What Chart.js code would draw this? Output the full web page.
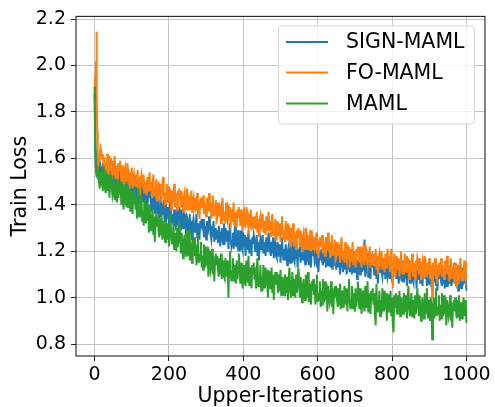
<!DOCTYPE html>
<html><head><meta charset="utf-8">
<script src="https://cdn.jsdelivr.net/npm/chart.js@4"></script>
<style>html,body{margin:0;padding:0;background:#fff;}canvas{display:block}</style>
</head><body>
<canvas id="c" width="495" height="407"></canvas>
<script>
const iterations = [
0,1,2,3,4,5,6,7,8,9,
10,12,14,16,18,20,22,24,26,28,
30,32,34,36,38,40,42,44,46,48,
50,52,54,56,58,60,62,64,66,68,
70,72,74,76,78,80,82,84,86,88,
90,92,94,96,98,100,102,104,106,108,
110,112,114,116,118,120,122,124,126,128,
130,132,134,136,138,140,142,144,146,148,
150,152,154,156,158,160,162,164,166,168,
170,172,174,176,178,180,182,184,186,188,
190,192,194,196,198,200,202,204,206,208,
210,212,214,216,218,220,222,224,226,228,
230,232,234,236,238,240,242,244,246,248,
250,252,254,256,258,260,262,264,266,268,
270,272,274,276,278,280,282,284,286,288,
290,292,294,296,298,300,302,304,306,308,
310,312,314,316,318,320,322,324,326,328,
330,332,334,336,338,340,342,344,346,348,
350,352,354,356,358,360,362,364,366,368,
370,372,374,376,378,380,382,384,386,388,
390,392,394,396,398,400,402,404,406,408,
410,412,414,416,418,420,422,424,426,428,
430,432,434,436,438,440,442,444,446,448,
450,452,454,456,458,460,462,464,466,468,
470,472,474,476,478,480,482,484,486,488,
490,492,494,496,498,500,502,504,506,508,
510,512,514,516,518,520,522,524,526,528,
530,532,534,536,538,540,542,544,546,548,
550,552,554,556,558,560,562,564,566,568,
570,572,574,576,578,580,582,584,586,588,
590,592,594,596,598,600,602,604,606,608,
610,612,614,616,618,620,622,624,626,628,
630,632,634,636,638,640,642,644,646,648,
650,652,654,656,658,660,662,664,666,668,
670,672,674,676,678,680,682,684,686,688,
690,692,694,696,698,700,702,704,706,708,
710,712,714,716,718,720,722,724,726,728,
730,732,734,736,738,740,742,744,746,748,
750,752,754,756,758,760,762,764,766,768,
770,772,774,776,778,780,782,784,786,788,
790,792,794,796,798,800,802,804,806,808,
810,812,814,816,818,820,822,824,826,828,
830,832,834,836,838,840,842,844,846,848,
850,852,854,856,858,860,862,864,866,868,
870,872,874,876,878,880,882,884,886,888,
890,892,894,896,898,900,902,904,906,908,
910,912,914,916,918,920,922,924,926,928,
930,932,934,936,938,940,942,944,946,948,
950,952,954,956,958,960,962,964,966,968,
970,972,974,976,978,980,982,984,986,988,
990,992,994,996,998,1000];

const signMaml = [
1.88,1.75,1.63,1.60,1.55,1.62,1.58,1.55,1.57,1.54,
1.57,1.52,1.59,1.55,1.50,1.56,1.58,1.53,1.51,1.56,
1.51,1.55,1.48,1.54,1.58,1.49,1.52,1.50,1.56,1.47,
1.53,1.48,1.49,1.55,1.46,1.52,1.44,1.51,1.53,1.49,
1.46,1.53,1.50,1.47,1.52,1.44,1.51,1.55,1.48,1.45,
1.48,1.43,1.52,1.46,1.44,1.51,1.45,1.50,1.41,1.49,
1.45,1.50,1.42,1.47,1.44,1.41,1.49,1.43,1.46,1.51,
1.41,1.44,1.49,1.39,1.45,1.42,1.38,1.46,1.43,1.47,
1.44,1.39,1.37,1.43,1.38,1.45,1.36,1.40,1.42,1.37,
1.37,1.41,1.34,1.40,1.44,1.35,1.38,1.36,1.42,1.33,
1.33,1.40,1.37,1.34,1.39,1.31,1.38,1.42,1.35,1.32,
1.36,1.31,1.38,1.34,1.29,1.35,1.37,1.32,1.30,1.39,
1.34,1.29,1.38,1.32,1.30,1.37,1.31,1.36,1.27,1.35,
1.34,1.29,1.30,1.36,1.27,1.33,1.25,1.32,1.34,1.30,
1.28,1.31,1.36,1.26,1.32,1.29,1.25,1.33,1.30,1.34,
1.29,1.34,1.26,1.31,1.28,1.25,1.33,1.27,1.30,1.35,
1.32,1.27,1.25,1.31,1.26,1.33,1.24,1.28,1.30,1.25,
1.29,1.24,1.31,1.27,1.22,1.28,1.30,1.25,1.23,1.32,
1.23,1.30,1.27,1.24,1.29,1.21,1.28,1.32,1.25,1.22,
1.24,1.28,1.21,1.27,1.31,1.22,1.25,1.23,1.29,1.20,
1.25,1.20,1.29,1.23,1.21,1.28,1.22,1.27,1.18,1.26,
1.21,1.24,1.29,1.19,1.25,1.22,1.18,1.26,1.23,1.27,
1.25,1.20,1.21,1.27,1.18,1.24,1.16,1.23,1.25,1.21,
1.22,1.27,1.19,1.24,1.21,1.18,1.26,1.20,1.23,1.28,
1.25,1.20,1.18,1.24,1.19,1.26,1.17,1.21,1.23,1.18,
1.17,1.24,1.21,1.18,1.23,1.15,1.22,1.26,1.19,1.16,
1.21,1.16,1.23,1.19,1.14,1.20,1.22,1.17,1.15,1.24,
1.20,1.15,1.24,1.18,1.16,1.23,1.17,1.22,1.13,1.21,
1.18,1.22,1.15,1.21,1.25,1.16,1.19,1.17,1.23,1.14,
1.16,1.19,1.24,1.14,1.20,1.17,1.13,1.21,1.18,1.22,
1.20,1.15,1.16,1.22,1.13,1.19,1.11,1.18,1.20,1.16,
1.21,1.16,1.14,1.20,1.15,1.22,1.13,1.17,1.19,1.14,
1.16,1.21,1.13,1.18,1.15,1.12,1.20,1.14,1.17,1.22,
1.12,1.19,1.16,1.13,1.18,1.10,1.17,1.21,1.14,1.11,
1.17,1.12,1.19,1.15,1.10,1.16,1.18,1.13,1.11,1.20,
1.15,1.10,1.19,1.13,1.11,1.18,1.12,1.17,1.08,1.16,
1.13,1.17,1.10,1.16,1.20,1.11,1.14,1.12,1.25,1.09,
1.11,1.14,1.19,1.09,1.15,1.12,1.08,1.16,1.13,1.17,
1.15,1.10,1.11,1.17,1.08,1.14,1.06,1.13,1.15,1.11,
1.16,1.11,1.09,1.15,1.10,1.17,1.08,1.12,1.14,1.09,
1.11,1.16,1.08,1.13,1.10,1.07,1.15,1.09,1.12,1.17,
1.13,1.08,1.15,1.11,1.06,1.12,1.14,1.09,1.07,1.16,
1.07,1.14,1.11,1.08,1.13,1.05,1.12,1.16,1.09,1.06,
1.11,1.06,1.15,1.09,1.07,1.14,1.08,1.13,1.04,1.12,
1.08,1.11,1.16,1.06,1.12,1.09,1.05,1.13,1.10,1.14,
1.08,1.12,1.05,1.11,1.15,1.06,1.09,1.07,1.13,1.04,
1.12,1.07,1.08,1.14,1.05,1.11,1.03,1.10,1.12,1.08,
1.12,1.07,1.05,1.11,1.06,1.13,1.04,1.08,1.10,1.05,
1.09,1.14,1.06,1.11,1.08,1.05,1.13,1.07,1.10,1.15,
1.10,1.05,1.12,1.08,1.03,1.09,1.11,1.06,1.04,1.13,
1.05,1.12,1.09,1.06,1.11,1.03];

const foMaml = [
1.90,1.95,1.93,1.97,2.02,2.145,1.88,1.72,1.63,1.58,
1.57,1.59,1.62,1.645,1.63,1.60,1.62,1.58,1.59,1.56,
1.58,1.53,1.62,1.56,1.54,1.61,1.55,1.60,1.51,1.59,
1.53,1.56,1.61,1.51,1.57,1.54,1.50,1.58,1.55,1.59,
1.55,1.50,1.57,1.53,1.48,1.54,1.56,1.51,1.49,1.58,
1.55,1.50,1.48,1.54,1.49,1.56,1.47,1.51,1.53,1.48,
1.53,1.48,1.49,1.55,1.46,1.52,1.44,1.51,1.53,1.49,
1.48,1.53,1.45,1.50,1.47,1.44,1.52,1.46,1.49,1.54,
1.46,1.50,1.43,1.49,1.53,1.44,1.47,1.45,1.51,1.42,
1.43,1.50,1.47,1.44,1.49,1.41,1.48,1.52,1.45,1.42,
1.45,1.40,1.49,1.43,1.41,1.48,1.42,1.47,1.38,1.46,
1.41,1.44,1.49,1.39,1.45,1.42,1.38,1.46,1.43,1.47,
1.44,1.39,1.46,1.42,1.37,1.43,1.45,1.40,1.38,1.47,
1.45,1.40,1.38,1.44,1.39,1.46,1.37,1.41,1.43,1.38,
1.43,1.38,1.39,1.45,1.36,1.42,1.34,1.41,1.43,1.39,
1.39,1.44,1.36,1.41,1.38,1.35,1.43,1.37,1.40,1.45,
1.37,1.41,1.34,1.40,1.44,1.35,1.38,1.36,1.42,1.33,
1.34,1.41,1.38,1.35,1.40,1.32,1.39,1.43,1.36,1.33,
1.37,1.32,1.41,1.35,1.33,1.40,1.34,1.39,1.30,1.38,
1.33,1.36,1.41,1.31,1.37,1.34,1.30,1.38,1.35,1.39,
1.36,1.31,1.38,1.34,1.29,1.35,1.37,1.32,1.30,1.39,
1.37,1.32,1.30,1.36,1.31,1.38,1.29,1.33,1.35,1.30,
1.35,1.30,1.31,1.37,1.28,1.34,1.26,1.33,1.35,1.31,
1.31,1.36,1.28,1.33,1.30,1.27,1.35,1.29,1.32,1.37,
1.29,1.33,1.26,1.32,1.36,1.27,1.30,1.28,1.34,1.25,
1.26,1.33,1.30,1.27,1.32,1.24,1.31,1.35,1.28,1.25,
1.29,1.24,1.33,1.27,1.25,1.32,1.26,1.31,1.22,1.30,
1.24,1.27,1.32,1.22,1.28,1.25,1.21,1.29,1.26,1.30,
1.27,1.22,1.29,1.25,1.20,1.26,1.28,1.23,1.21,1.30,
1.28,1.23,1.21,1.27,1.22,1.29,1.20,1.24,1.26,1.21,
1.26,1.21,1.22,1.28,1.19,1.25,1.17,1.24,1.26,1.22,
1.22,1.27,1.19,1.24,1.21,1.18,1.26,1.20,1.23,1.28,
1.20,1.24,1.17,1.23,1.27,1.18,1.21,1.19,1.25,1.16,
1.17,1.24,1.21,1.18,1.23,1.15,1.22,1.26,1.19,1.16,
1.20,1.15,1.24,1.18,1.16,1.23,1.17,1.22,1.13,1.21,
1.16,1.19,1.24,1.14,1.20,1.17,1.13,1.21,1.18,1.22,
1.20,1.15,1.22,1.18,1.13,1.19,1.21,1.16,1.14,1.23,
1.21,1.16,1.14,1.20,1.15,1.22,1.13,1.17,1.19,1.14,
1.19,1.14,1.15,1.21,1.12,1.18,1.10,1.17,1.19,1.15,
1.15,1.20,1.12,1.17,1.14,1.11,1.19,1.13,1.16,1.21,
1.14,1.18,1.11,1.17,1.21,1.12,1.04,1.13,1.19,1.10,
1.11,1.18,1.15,1.12,1.17,1.09,1.16,1.20,1.13,1.10,
1.15,1.10,1.19,1.13,1.11,1.18,1.12,1.17,1.08,1.16,
1.11,1.14,1.19,1.09,1.15,1.12,1.08,1.16,1.13,1.17,
1.15,1.10,1.17,1.13,1.08,1.14,1.16,1.11,1.09,1.18,
1.16,1.11,1.09,1.15,1.10,1.17,1.08,1.12,1.14,1.00,
1.15,1.10,1.11,1.17,1.08,1.14,1.06,1.13,1.15,1.11,
1.12,1.17,1.09,1.14,1.11,1.08,1.16,1.10,1.13,1.18,
1.10,1.14,1.07,1.13,1.17,1.08,1.11,1.09,1.15,1.06,
1.08,1.15,1.04,1.09,1.14,1.06,1.13,1.17,1.10,1.07,
1.12,1.07,1.16,1.10,1.08,1.15];

const maml = [
1.91,1.78,1.64,1.57,1.54,1.56,1.52,1.54,1.51,1.53,
1.55,1.50,1.47,1.54,1.48,1.56,1.46,1.51,1.53,1.47,
1.45,1.52,1.50,1.46,1.53,1.43,1.51,1.53,1.48,1.44,
1.46,1.52,1.42,1.49,1.45,1.41,1.51,1.43,1.47,1.50,
1.47,1.40,1.49,1.44,1.38,1.45,1.48,1.41,1.39,1.50,
1.39,1.43,1.47,1.37,1.45,1.41,1.36,1.46,1.42,1.47,
1.38,1.43,1.34,1.42,1.47,1.35,1.39,1.36,1.44,1.33,
1.37,1.31,1.42,1.35,1.32,1.41,1.33,1.40,1.28,1.39,
1.36,1.29,1.31,1.38,1.27,1.35,1.24,1.33,1.36,1.31,
1.35,1.29,1.26,1.34,1.27,1.36,1.25,1.30,1.33,1.26,
1.24,1.33,1.29,1.25,1.32,1.22,1.31,1.36,1.27,1.23,
1.25,1.31,1.21,1.28,1.24,1.20,1.30,1.22,1.26,1.33,
1.26,1.19,1.28,1.23,1.17,1.24,1.27,1.20,1.18,1.29,
1.18,1.22,1.29,1.16,1.24,1.20,1.15,1.25,1.21,1.26,
1.18,1.23,1.14,1.22,1.27,1.15,1.19,1.16,1.24,1.13,
1.18,1.12,1.23,1.16,1.13,1.22,1.14,1.21,1.09,1.20,
1.19,1.12,1.14,1.21,1.10,1.18,1.07,1.16,1.19,1.14,
1.18,1.12,1.09,1.17,1.10,1.19,1.08,1.13,1.16,1.09,
1.08,1.17,1.13,1.09,1.16,1.00,1.15,1.20,1.11,1.07,
1.11,1.17,1.07,1.14,1.10,1.06,1.16,1.08,1.12,1.19,
1.13,1.06,1.15,1.10,1.04,1.11,1.14,1.07,1.05,1.16,
1.07,1.11,1.18,1.05,1.13,1.09,1.04,1.14,1.10,1.15,
1.08,1.13,1.04,1.12,1.17,1.05,1.09,1.06,1.14,1.03,
1.09,1.03,1.14,1.07,1.04,1.13,1.05,1.12,1.00,1.11,
1.11,1.04,1.06,1.13,1.02,1.10,0.99,1.08,1.11,1.06,
1.11,1.05,1.02,1.10,1.03,1.12,1.01,1.06,1.09,1.02,
1.01,1.10,1.06,1.02,1.09,0.99,1.08,1.13,1.04,1.00,
1.05,1.11,1.01,1.08,1.04,1.00,1.10,1.02,1.06,1.13,
1.07,1.00,1.09,1.04,0.98,1.05,1.08,1.01,0.99,1.10,
1.00,1.04,1.11,0.98,1.06,1.02,0.97,1.07,1.03,1.08,
1.01,1.06,0.97,1.05,1.10,0.98,1.02,0.99,1.07,0.96,
1.03,0.97,1.08,1.01,0.98,1.07,0.99,1.06,0.94,1.05,
1.05,0.98,1.00,1.07,0.96,1.04,0.93,1.02,1.05,1.00,
1.05,0.99,0.96,1.04,0.97,1.06,0.95,1.00,1.03,0.96,
0.96,1.05,1.01,0.97,1.04,0.94,1.03,1.08,0.99,0.95,
0.99,1.05,0.95,1.02,0.98,0.94,1.04,0.96,1.00,1.07,
1.02,0.95,1.04,0.99,0.93,1.00,1.03,0.96,0.94,1.05,
0.96,1.00,1.07,0.94,1.02,0.98,0.93,1.03,0.99,1.04,
0.97,1.02,0.93,0.88,1.06,0.94,0.98,0.95,1.03,0.92,
0.99,0.93,1.04,0.97,0.94,1.03,0.95,1.02,0.90,1.01,
1.01,0.94,0.96,1.03,0.92,1.00,0.89,0.85,1.01,0.96,
1.02,0.96,0.93,1.01,0.94,1.03,0.92,0.97,1.00,0.93,
0.93,1.02,0.98,0.94,1.01,0.91,1.00,1.05,0.96,0.92,
0.96,1.02,0.92,0.99,0.95,0.91,1.01,0.93,0.97,1.04,
0.99,0.92,1.01,0.96,0.90,0.97,1.00,0.93,0.91,1.02,
0.93,0.97,1.04,0.91,0.99,0.95,0.90,1.00,0.96,0.82,
0.95,1.00,0.91,0.99,1.04,0.92,0.96,0.93,1.01,0.90,
0.97,0.91,1.02,0.95,0.92,1.01,0.93,1.00,0.88,0.99,
0.99,0.92,0.94,1.01,0.90,0.98,0.87,0.96,0.99,0.94,
1.00,0.94,0.91,0.99,0.92,1.01,0.90,0.95,0.98,0.91,
0.91,1.00,0.96,0.92,0.99,0.89];

const seriesNames = ['SIGN-MAML', 'FO-MAML', 'MAML'];
const seriesColors = ['#1f77b4', '#ff7f0e', '#2ca02c'];
const xTicks = [0, 200, 400, 600, 800, 1000];
const yTicks = [0.8, 1.0, 1.2, 1.4, 1.6, 1.8, 2.0, 2.2];

const FONT = 'DejaVu Sans';
const toPoints = arr => iterations.map((x, i) => ({x: x, y: arr[i]}));
const allSeries = [signMaml, foMaml, maml];

const frame = {
  id: 'frame',
  afterDatasetsDraw(chart) {
    const {ctx, chartArea: a} = chart;
    ctx.save();
    ctx.strokeStyle = '#222';
    ctx.lineWidth = 1.1;
    ctx.strokeRect(a.left, a.top, a.right - a.left, a.bottom - a.top);
    ctx.restore();
  }
};

const mplLegend = {
  id: 'mplLegend',
  afterDraw(chart) {
    const ctx = chart.ctx;
    const x0 = 278.5, y0 = 26, w = 196, h = 98, r = 4;
    ctx.save();
    ctx.beginPath();
    ctx.moveTo(x0 + r, y0);
    ctx.lineTo(x0 + w - r, y0);
    ctx.quadraticCurveTo(x0 + w, y0, x0 + w, y0 + r);
    ctx.lineTo(x0 + w, y0 + h - r);
    ctx.quadraticCurveTo(x0 + w, y0 + h, x0 + w - r, y0 + h);
    ctx.lineTo(x0 + r, y0 + h);
    ctx.quadraticCurveTo(x0, y0 + h, x0, y0 + h - r);
    ctx.lineTo(x0, y0 + r);
    ctx.quadraticCurveTo(x0, y0, x0 + r, y0);
    ctx.closePath();
    ctx.fillStyle = 'rgba(255,255,255,0.8)';
    ctx.fill();
    ctx.strokeStyle = '#d6d6d6';
    ctx.lineWidth = 1;
    ctx.stroke();
    const rows = [42, 72.5, 103.5];
    chart.data.datasets.forEach((ds, i) => {
      const y = rows[i];
      ctx.strokeStyle = ds.borderColor;
      ctx.lineWidth = 2;
      ctx.beginPath();
      ctx.moveTo(286, y);
      ctx.lineTo(328, y);
      ctx.stroke();
      ctx.fillStyle = '#000';
      ctx.font = '20.5px "' + FONT + '"';
      ctx.textBaseline = 'middle';
      ctx.textAlign = 'left';
      ctx.fillText(ds.label, 346, y + 1);
    });
    ctx.restore();
  }
};

new Chart(document.getElementById('c'), {
  type: 'line',
  data: {
    datasets: seriesNames.map((name, i) => ({
      label: name,
      data: toPoints(allSeries[i]),
      borderColor: seriesColors[i],
      backgroundColor: seriesColors[i],
      borderWidth: 2,
      pointRadius: 0,
      tension: 0,
      fill: false,
      order: 2 - i
    }))
  },
  options: {
    responsive: false,
    animation: false,
    devicePixelRatio: 1,
    layout: {padding: {top: 15, right: 10, left: 0, bottom: 0}},
    plugins: {legend: {display: false}, tooltip: {enabled: false}},
    scales: {
      x: {
        type: 'linear', min: -50, max: 1050,
        afterBuildTicks: s => { s.ticks = xTicks.map(v => ({value: v})); },
        afterFit: s => { s.height = 51; },
        grid: {color: '#c4c4c4', lineWidth: 1, tickColor: '#222', tickLength: 5},
        border: {display: false},
        ticks: {font: {family: FONT, size: 19}, color: '#000', padding: 2.5, maxRotation: 0, autoSkip: false,
                callback: v => String(v)},
        title: {display: true, text: 'Upper-Iterations', color: '#000',
                font: {family: FONT, size: 20.5, lineHeight: 1}, padding: {top: 0, bottom: 0}}
      },
      y: {
        type: 'linear', min: 0.7485, max: 2.2116,
        afterBuildTicks: s => { s.ticks = yTicks.map(v => ({value: v})); },
        afterFit: s => { s.width = 76; },
        grid: {color: '#c4c4c4', lineWidth: 1, tickColor: '#222', tickLength: 5},
        border: {display: false},
        ticks: {font: {family: FONT, size: 19}, color: '#000', padding: 5, autoSkip: false,
                callback: v => Number(v).toFixed(1)},
        title: {display: true, text: 'Train Loss', color: '#000',
                font: {family: FONT, size: 20.5, lineHeight: 1}, padding: {top: 10.5, bottom: 0}}
      }
    }
  },
  plugins: [frame, mplLegend]
});
</script>
</body></html>
